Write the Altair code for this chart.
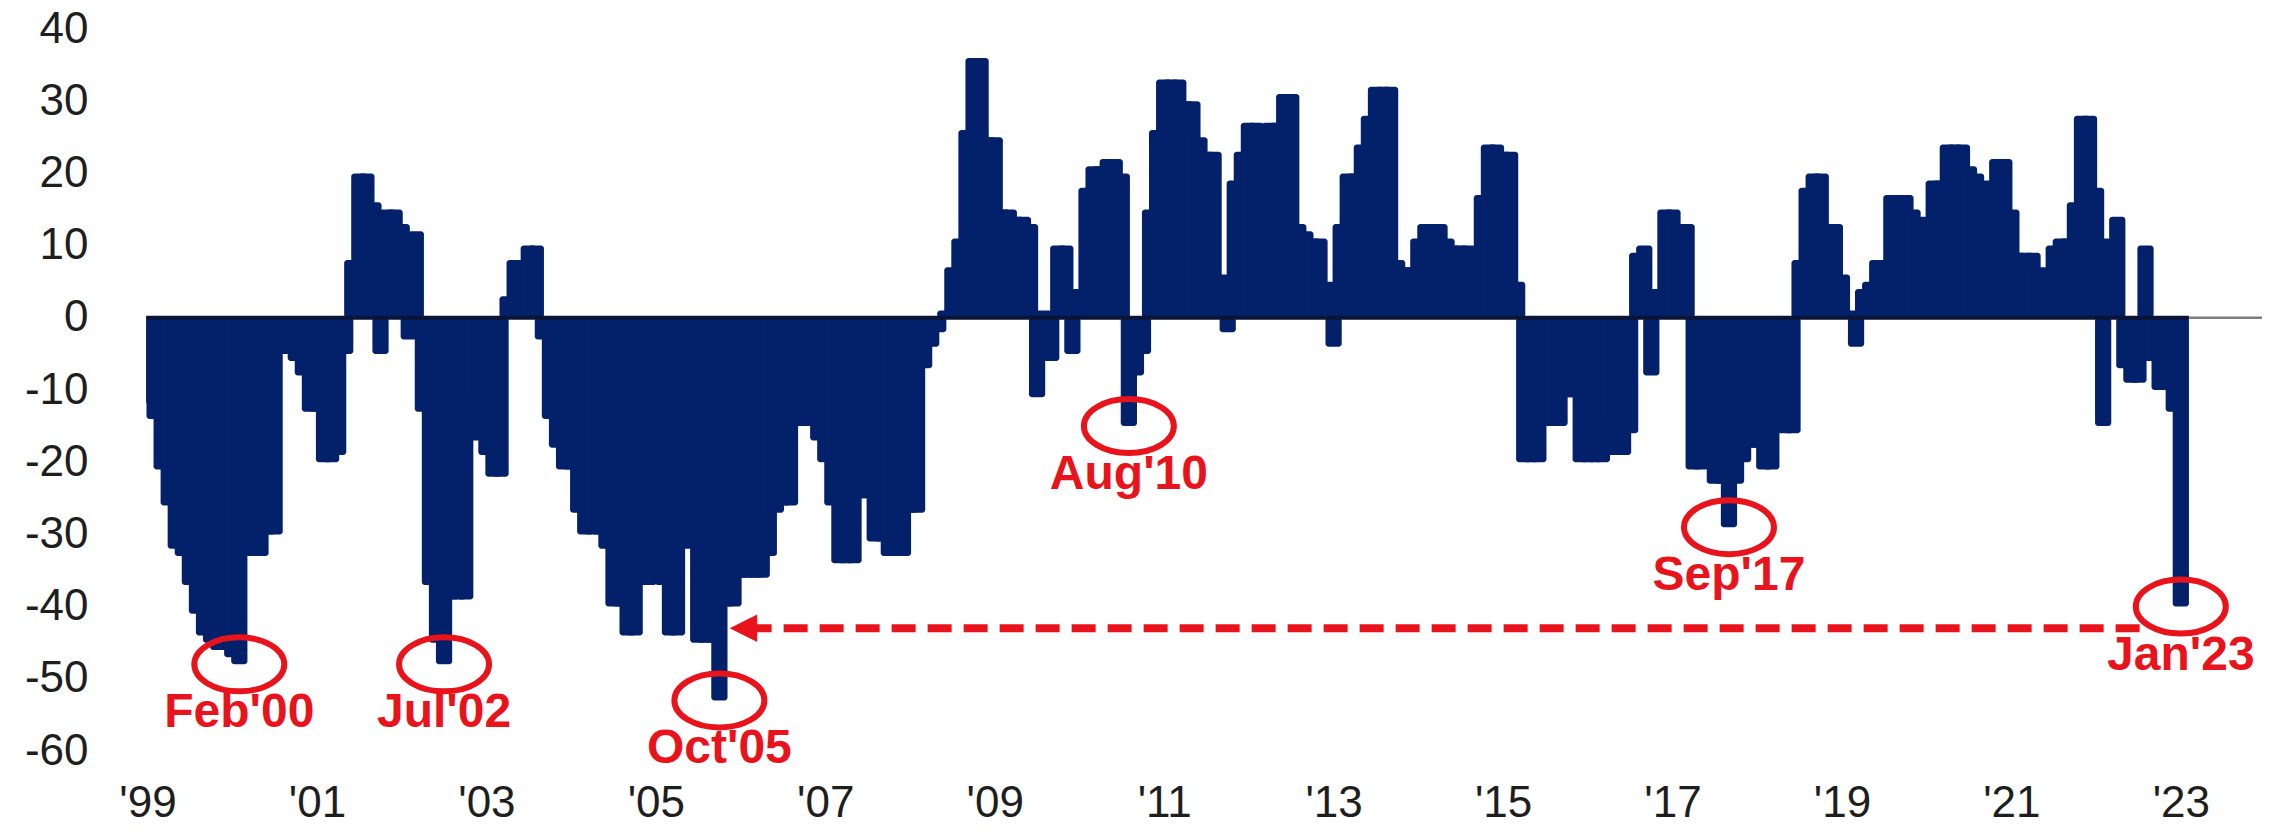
import json

import altair as alt
import pandas as pd

# Monthly readings, one list per calendar year (Jan..Dec)
y1999 = [-12, -14, -21, -26, -32, -33, -37, -41, -44, -45, -46, -46]
y2000 = [-47, -48, -28, -33, -33, -30, -30, -5, -4, -6, -8, -13]
y2001 = [-13, -20, -20, -19, -5, 8, 20, 20, 16, -5, 15, 15]
y2002 = [13, -3, 12, -13, -37, -45, -48, -39, -39, -39, -17, -11]
y2003 = [-19, -22, -22, 3, 8, 8, 10, 10, -3, -14, -18, -21]
y2004 = [-21, -27, -30, -30, -30, -32, -40, -40, -44, -44, -37, -37]
y2005 = [-35, -37, -44, -44, -32, -31, -45, -45, -45, -53, -40, -40]
y2006 = [-36, -36, -36, -36, -33, -27, -26, -26, -15, -15, -14, -17]
y2007 = [-20, -26, -34, -34, -34, -25, -25, -31, -31, -33, -33, -33]
y2008 = [-27, -27, -7, -4, -2, 1, 7, 11, 26, 36, 36, 25]
y2009 = [25, 15, 15, 14, 14, 13, -11, 1, -6, 10, 10, -5]
y2010 = [4, 18, 21, 21, 22, 22, 20, -15, -8, -5, 15, 26]
y2011 = [33, 33, 33, 30, 30, 25, 23, 23, 6, -2, 19, 23]
y2012 = [27, 27, 15, 27, 27, 31, 31, 13, 12, 11, 11, 5]
y2013 = [-4, 13, 20, 20, 24, 28, 32, 32, 32, 8, 7, 7]
y2014 = [11, 13, 13, 13, 11, 10, 10, 10, 5, 17, 24, 24]
y2015 = [23, 23, 5, -20, -20, -20, -11, -15, -15, -11, -11, -20]
y2016 = [-20, -20, -20, -14, -19, -19, -16, 9, 10, -8, 4, 15]
y2017 = [15, 13, 13, -21, -21, -19, -23, -23, -29, -23, -20, -18]
y2018 = [-18, -21, -21, -11, -16, -16, 8, 18, 20, 20, 13, 13]
y2019 = [6, 1, -4, 4, 5, 8, 8, 17, 17, 17, 15, 14]
y2020 = [8, 19, 19, 24, 24, 24, 21, 20, 18, 19, 22, 22]
y2021 = [15, 9, 9, 9, 7, 6, 10, 11, 11, 16, 28, 28]
y2022 = [18, -15, 11, 14, -7, -9, -9, 10, -6, -10, -10, -13]
y2023 = [-40]

years = list(range(1999, 2024))
yearly = [y1999, y2000, y2001, y2002, y2003, y2004, y2005, y2006, y2007,
          y2008, y2009, y2010, y2011, y2012, y2013, y2014, y2015, y2016,
          y2017, y2018, y2019, y2020, y2021, y2022, y2023]

# Axis ticks: every other January
tick_labels = ["'99", "'01", "'03", "'05", "'07", "'09", "'11",
               "'13", "'15", "'17", "'19", "'21", "'23"]
tick_months = [24 * i for i in range(len(tick_labels))]
y_ticks = [-60, -50, -40, -30, -20, -10, 0, 10, 20, 30, 40]

# Highlighted troughs: label and month index (0 = Jan '99)
callout_labels = ["Feb'00", "Jul'02", "Oct'05", "Aug'10", "Sep'17", "Jan'23"]
callout_months = [13, 42, 81, 139, 224, 288]

# Dashed comparison arrow level
arrow_level = -43

NAVY = "#03216a"
RED = "#e8131b"
FONT = "Liberation Sans"
HALF_WIDTH = 1.15  # bars are drawn wider than a month and overlap

rows = []
for yr, vals in zip(years, yearly):
    for i, v in enumerate(vals):
        m = (yr - 1999) * 12 + i
        rows.append({"m": m, "lo": max(m - HALF_WIDTH, -0.2),
                     "hi": m + HALF_WIDTH, "value": v})
bars_df = pd.DataFrame(rows)
last_m = bars_df["m"].max()
value_at = dict(zip(bars_df["m"], bars_df["value"]))

x_scale = alt.Scale(domain=[-0.5, 299.5], nice=False, zero=False)
y_scale = alt.Scale(domain=[-60, 40], nice=False)

label_expr = json.dumps(tick_labels) + "[round(datum.value / 24)]"

x_axis = alt.Axis(values=tick_months, labelExpr=label_expr, domain=False,
                  ticks=False, grid=False, title=None, labelFontSize=44,
                  labelFont=FONT, labelColor="#1e1e1e", labelPadding=30)
y_axis = alt.Axis(values=y_ticks, labelExpr="toString(datum.value)",
                  domain=False, ticks=False, grid=False,
                  title=None, labelFontSize=44, labelFont=FONT,
                  labelColor="#1e1e1e", labelPadding=56)

bars = alt.Chart(bars_df).mark_bar(color=NAVY, cornerRadius=3).encode(
    x=alt.X("lo:Q", scale=x_scale, axis=x_axis),
    x2="hi:Q",
    y=alt.Y("value:Q", scale=y_scale, axis=y_axis),
    y2=alt.datum(0),
)

# Zero line: heavy under the bars, thin grey beyond the last month
zero_df = pd.DataFrame([{"a": -0.2, "b": last_m + HALF_WIDTH, "y": 0}])
zero_tail_df = pd.DataFrame([{"a": last_m + HALF_WIDTH, "b": 299.5, "y": 0}])
zero_main = alt.Chart(zero_df).mark_rule(color="#0a1434", strokeWidth=4).encode(
    x=alt.X("a:Q", scale=x_scale), x2="b:Q", y=alt.Y("y:Q", scale=y_scale))
zero_tail = alt.Chart(zero_tail_df).mark_rule(color="#7d7d7d", strokeWidth=2.5).encode(
    x=alt.X("a:Q", scale=x_scale), x2="b:Q", y=alt.Y("y:Q", scale=y_scale))

callout_df = pd.DataFrame({
    "label": callout_labels,
    "m": callout_months,
    "value": [value_at[m] for m in callout_months],
})

ellipse_path = "M -1 0 A 1 0.6 0 1 1 1 0 A 1 0.6 0 1 1 -1 0 Z"
rings = alt.Chart(callout_df).mark_point(
    shape=ellipse_path, size=8100, filled=False, stroke=RED, strokeWidth=6,
    opacity=1, dx=2, dy=-7,
).encode(x=alt.X("m:Q", scale=x_scale), y=alt.Y("value:Q", scale=y_scale))

texts = alt.Chart(callout_df).mark_text(
    color=RED, font=FONT, fontWeight="bold", fontSize=48,
    baseline="middle", align="center", dy=49,
).encode(x=alt.X("m:Q", scale=x_scale), y=alt.Y("value:Q", scale=y_scale),
         text="label:N")

# Dashed arrow from the latest reading back to the Oct'05 trough
tip_m = callout_months[2] + 1.5
arrow_df = pd.DataFrame([{"a": tip_m + 2.5, "b": callout_months[-1] - 5, "y": arrow_level}])
head_df = pd.DataFrame([{"x": tip_m + 1.9, "y": arrow_level}])

arrow_line = alt.Chart(arrow_df).mark_rule(
    color=RED, strokeWidth=8, strokeDash=[24, 12],
).encode(x=alt.X("a:Q", scale=x_scale), x2="b:Q", y=alt.Y("y:Q", scale=y_scale))

arrow_head = alt.Chart(head_df).mark_point(
    shape="M -1 0 L 1 -1 L 1 1 Z", size=760, filled=True, color=RED, opacity=1,
).encode(x=alt.X("x:Q", scale=x_scale), y=alt.Y("y:Q", scale=y_scale))

chart = alt.layer(
    bars, zero_main, zero_tail, arrow_line, arrow_head, rings, texts
).properties(
    width=2118, height=722,
    autosize=alt.AutoSizeParams(type="none"),
    padding={"left": 144, "top": 29, "right": 25, "bottom": 81},
    background="white",
).configure_view(stroke=None)

chart.save("out.html", embed_options={"renderer": "svg", "actions": False})
